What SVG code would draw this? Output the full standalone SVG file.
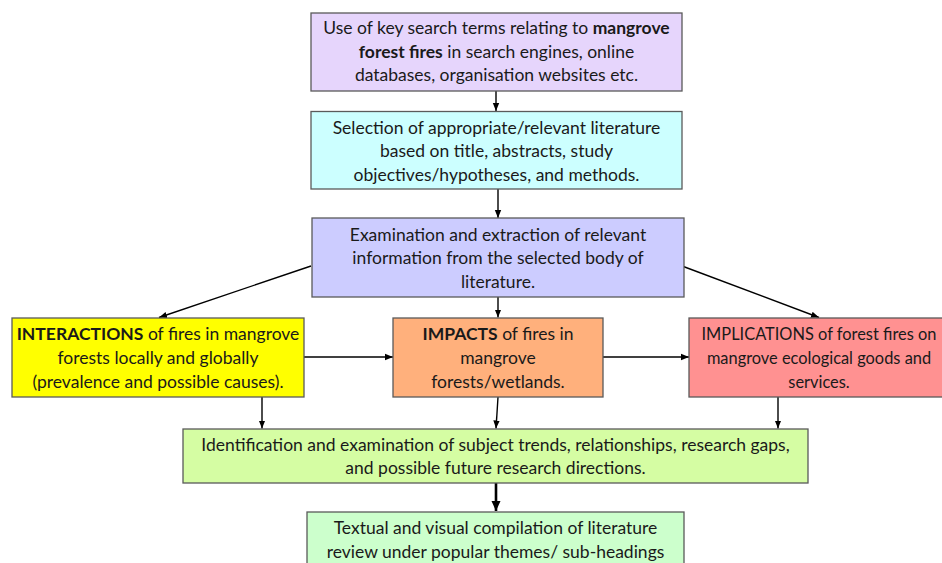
<svg xmlns="http://www.w3.org/2000/svg" width="942" height="563" viewBox="0 0 942 563">
<defs>
<marker id="ah" markerUnits="userSpaceOnUse" markerWidth="8" markerHeight="8" viewBox="0 0 8 8" refX="8" refY="4" orient="auto">
<path d="M0,0.8 L8,4 L0,7.2 Z" fill="#000"/>
</marker>
<marker id="ahb" markerUnits="userSpaceOnUse" markerWidth="10" markerHeight="10" viewBox="0 0 10 10" refX="10" refY="5" orient="auto">
<path d="M0,0.5 L10,5 L0,9.5 Z" fill="#000"/>
</marker>
<style>
.box{stroke:#5a5a5a;stroke-width:1.3}
.t{font-family:Lato,"Liberation Sans",sans-serif;font-size:17.5px;fill:#1a1a1a;text-anchor:middle}
.s{font-size:16.4px}
.b{font-weight:bold}
.c{stroke:#000;stroke-width:1.4;fill:none;marker-end:url(#ah)}
</style>
</defs>
<rect width="942" height="563" fill="#fff"/>
<g id="connectors">
<line class="c" x1="496" y1="91" x2="496" y2="111"/>
<line class="c" x1="498" y1="189" x2="498" y2="218"/>
<line class="c" x1="498" y1="297" x2="498" y2="317.5"/>
<line class="c" x1="311" y1="266" x2="159" y2="317.5"/>
<line class="c" x1="682" y1="266" x2="819" y2="317.5"/>
<line class="c" x1="304" y1="357" x2="393" y2="357"/>
<line class="c" x1="602" y1="357" x2="689" y2="357"/>
<line class="c" x1="262" y1="397" x2="262" y2="428.5"/>
<line class="c" x1="498" y1="397" x2="496" y2="428.5"/>
<line class="c" x1="778" y1="397" x2="778" y2="428.5"/>
<line x1="496" y1="483" x2="496" y2="511" stroke="#000" stroke-width="2.6" marker-end="url(#ahb)"/>
</g>
<g id="n1">
<rect class="box" x="311" y="13" width="371" height="78" fill="#E6D5FC"/>
<text class="t" x="496.5" y="33.5">Use of key search terms relating to <tspan class="b">mangrove</tspan></text>
<text class="t" x="496.5" y="57.5"><tspan class="b">forest fires</tspan> in search engines, online</text>
<text class="t" x="496.5" y="81">databases, organisation websites etc.</text>
</g>
<g id="n2">
<rect class="box" x="311" y="111.5" width="371" height="77.5" fill="#CCFFFF"/>
<text class="t" x="496.5" y="133.5">Selection of appropriate/relevant literature</text>
<text class="t" x="496.5" y="157">based on title, abstracts, study</text>
<text class="t" x="496.5" y="180.5">objectives/hypotheses, and methods.</text>
</g>
<g id="n3">
<rect class="box" x="312" y="218" width="372" height="79" fill="#CCCCFF"/>
<text class="t" x="498" y="240.5">Examination and extraction of relevant</text>
<text class="t" x="498" y="264">information from the selected body of</text>
<text class="t" x="498" y="287.5">literature.</text>
</g>
<g id="n4">
<rect class="box" x="12" y="318" width="292" height="79" fill="#FFFF00"/>
<text class="t" x="158" y="339.5"><tspan class="b">INTERACTIONS</tspan> of fires in mangrove</text>
<text class="t" x="158" y="363.5">forests locally and globally</text>
<text class="t" x="158" y="387.5">(prevalence and possible causes).</text>
</g>
<g id="n5">
<rect class="box" x="393" y="318" width="210" height="79" fill="#FFB07C"/>
<text class="t" x="498" y="339.5"><tspan class="b">IMPACTS</tspan> of fires in</text>
<text class="t" x="498" y="363.5">mangrove</text>
<text class="t" x="498" y="387.5">forests/wetlands.</text>
</g>
<g id="n6">
<rect class="box" x="689" y="318" width="262" height="79" fill="#FF9191"/>
<text class="t s" x="819" y="339.5">IMPLICATIONS of forest fires on</text>
<text class="t s" x="819" y="363.5">mangrove ecological goods and</text>
<text class="t s" x="819" y="387.5">services.</text>
</g>
<g id="n7">
<rect class="box" x="183" y="429" width="625" height="54" fill="#D5FDA3"/>
<text class="t" x="495.5" y="450.5">Identification and examination of subject trends, relationships, research gaps,</text>
<text class="t" x="495.5" y="473.5">and possible future research directions.</text>
</g>
<g id="n8">
<rect class="box" x="307" y="512" width="377" height="60" fill="#CCFFCC"/>
<text class="t" x="495.5" y="533.5">Textual and visual compilation of literature</text>
<text class="t" x="495.5" y="557.5">review under popular themes/ sub-headings</text>
</g>
</svg>
